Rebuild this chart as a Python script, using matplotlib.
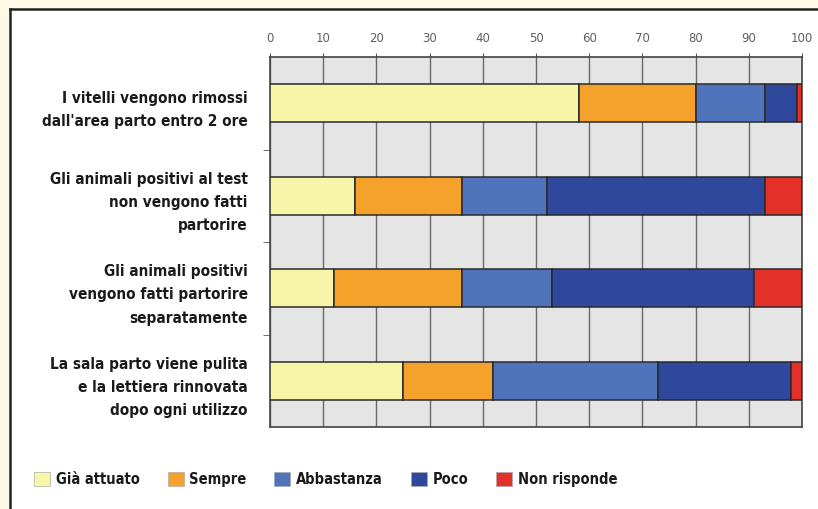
import numpy as np
import matplotlib.pyplot as plt
from matplotlib.patches import Rectangle, Patch
from matplotlib.lines import Line2D

# data (percent)
categories = ["I vitelli vengono rimossi\ndall'area parto entro 2 ore",
              "Gli animali positivi al test\nnon vengono fatti\npartorire",
              "Gli animali positivi\nvengono fatti partorire\nseparatamente",
              "La sala parto viene pulita\ne la lettiera rinnovata\ndopo ogni utilizzo"]
series = ['Già attuato', 'Sempre', 'Abbastanza', 'Poco', 'Non risponde']
gia_attuato = [58, 16, 12, 25]
sempre = [22, 20, 24, 17]
abbastanza = [13, 16, 17, 31]
poco = [6, 41, 38, 25]
non_risponde = [1, 7, 9, 2]
xticks = [0, 10, 20, 30, 40, 50, 60, 70, 80, 90, 100]

colors = ['#F8F4A8', '#F5A22D', '#4F74BC', '#2F489C', '#E3312A']
label_font = ['Liberation Sans Narrow', 'DejaVu Sans']

fig = plt.figure(figsize=(8.18, 5.10), dpi=100)
fig.patch.set_facecolor('#FDF9E6')

# white panel with black top/left edge
fig.patches.append(Rectangle((10 / 818, 0), 1, 1 - 10 / 510, transform=fig.transFigure,
                             facecolor='white', edgecolor='none', zorder=-5))
fig.lines.append(Line2D([10 / 818, 1], [1 - 10 / 510, 1 - 10 / 510], transform=fig.transFigure,
                        color='#222222', lw=1.8, zorder=-4))
fig.lines.append(Line2D([10 / 818, 10 / 818], [0, 1 - 10 / 510], transform=fig.transFigure,
                        color='#222222', lw=1.8, zorder=-4))

ax = fig.add_axes([270 / 818, 1 - 428 / 510, 532 / 818, 370 / 510])
ax.set_facecolor('#E5E5E5')

y = np.arange(len(categories))
left = np.zeros(len(categories))
for name, vals, col in zip(series, [gia_attuato, sempre, abbastanza, poco, non_risponde], colors):
    ax.barh(y, vals, left=left, height=0.41, color=col, edgecolor='#2a2a2a', linewidth=1.1,
            label=name, zorder=3)
    left += np.array(vals)

ax.set_xlim(0, 100)
ax.set_ylim(len(categories) - 0.5, -0.5)
ax.xaxis.tick_top()
ax.set_xticks(xticks)
ax.set_xticklabels([str(t) for t in xticks], fontsize=8.5, color='#606060', family='DejaVu Sans')
ax.tick_params(axis='x', length=3, color='#555555', pad=6)
ax.grid(axis='x', color='#6a6a6a', linewidth=1.0, zorder=1)

ax.set_yticks(y)
ax.set_yticklabels(categories, fontsize=11, fontweight='bold', family=label_font,
                   fontstretch='condensed', color='#1a1a1a', linespacing=1.7, ha='right')
ax.tick_params(axis='y', length=0, pad=16)
ax.set_yticks(np.arange(0.5, len(categories) - 1, 1), minor=True)
ax.tick_params(axis='y', which='minor', length=5, color='#555555')

for s in ax.spines.values():
    s.set_color('#444444')
    s.set_linewidth(1.2)

handles = [Patch(facecolor=c, edgecolor='#aaaaaa', linewidth=0.5) for c in colors]
leg = fig.legend(handles, series, loc='center left', bbox_to_anchor=(21 / 818, 1 - 480 / 510),
                 ncol=5, frameon=False, handlelength=1.1, handleheight=1.1, handletextpad=0.4,
                 columnspacing=1.9,
                 prop={'family': label_font, 'weight': 'bold', 'size': 10.5, 'stretch': 'condensed'})
for t in leg.get_texts():
    t.set_color('#1a1a1a')

plt.savefig('out.png', dpi=100, facecolor=fig.get_facecolor())
